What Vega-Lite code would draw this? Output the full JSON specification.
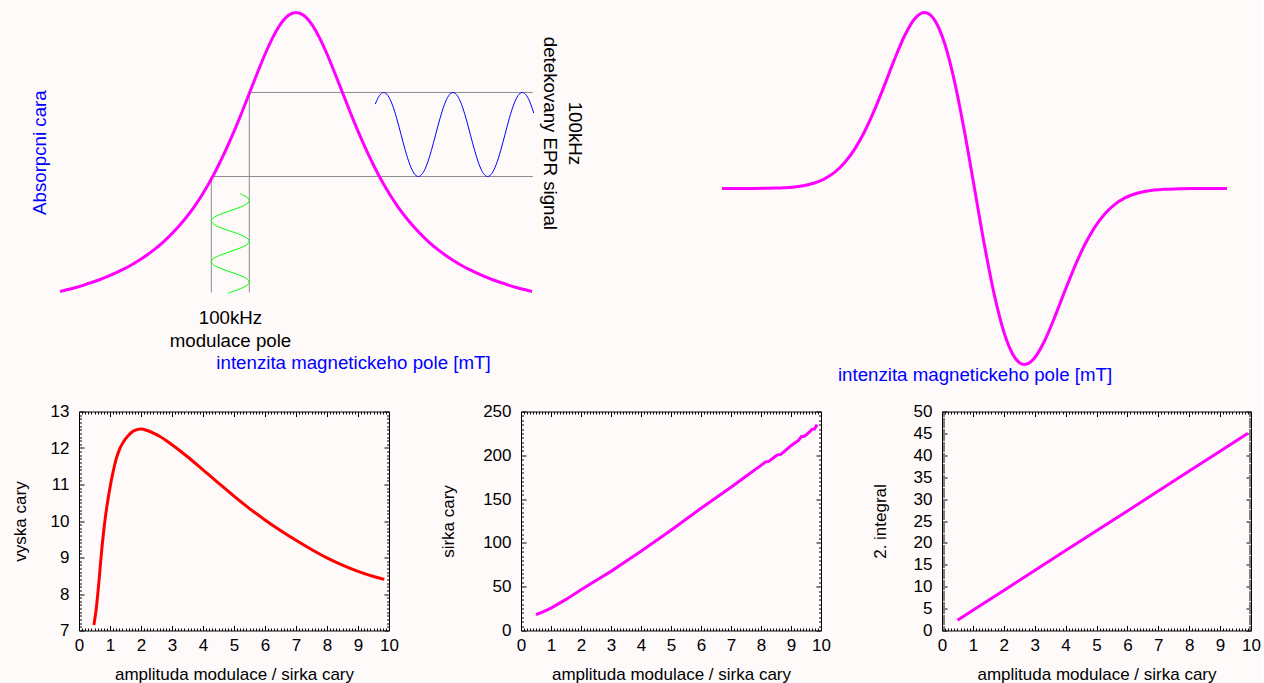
{
  "$schema": "https://vega.github.io/schema/vega-lite/v6.json",
  "background": "#fffafa",
  "padding": {"left": 11, "top": 6.5, "right": 2, "bottom": 2},
  "config": {
    "font": "Liberation Sans",
    "view": {"stroke": null},
    "axis": {
      "grid": false,
      "domainColor": "#000000",
      "domainWidth": 1,
      "tickColor": "#000000",
      "tickWidth": 1,
      "labelColor": "#000000",
      "titleColor": "#000000",
      "labelFontSize": 17,
      "titleFontSize": 17,
      "titleFontWeight": "normal",
      "labelFlush": false,
      "labelOverlap": false
    }
  },
  "bounds": "flush",
  "spacing": 47,
  "vconcat": [
    {
      "width": 1172,
      "height": 352,
      "layer": [
        {
          "layer": [
            {
              "data": {"values": [
                {"x": -1.0778, "x2": 3.01, "y": 0.471, "y2": 0.471},
                {"x": -0.5946, "x2": 3.01, "y": 0.742, "y2": 0.742},
                {"x": -1.0778, "x2": -1.0778, "y": 0.471, "y2": 0.097},
                {"x": -0.5946, "x2": -0.5946, "y": 0.742, "y2": 0.097}
              ]},
              "mark": {"type": "rule", "color": "#8c8c8c", "strokeWidth": 1},
              "encoding": {
                "x": {"field": "x", "type": "quantitative", "scale": {"domain": [-2.76, 12.142], "nice": false, "zero": false}, "axis": null},
                "x2": {"field": "x2"},
                "y": {"field": "y", "type": "quantitative", "scale": {"domain": [-0.1355, 1], "nice": false, "zero": false}, "axis": null},
                "y2": {"field": "y2"}
              }
            },
            {
              "data": {"values": [
                {"i": 0, "x": -0.7125, "y": 0.4151},
                {"i": 1, "x": -0.6654, "y": 0.41},
                {"i": 2, "x": -0.613, "y": 0.4017},
                {"i": 3, "x": -0.5946, "y": 0.3935},
                {"i": 4, "x": -0.613, "y": 0.3853},
                {"i": 5, "x": -0.6654, "y": 0.3771},
                {"i": 6, "x": -0.7437, "y": 0.3688},
                {"i": 7, "x": -0.8362, "y": 0.3606},
                {"i": 8, "x": -0.9287, "y": 0.3524},
                {"i": 9, "x": -1.007, "y": 0.3441},
                {"i": 10, "x": -1.0594, "y": 0.3359},
                {"i": 11, "x": -1.0778, "y": 0.3277},
                {"i": 12, "x": -1.0594, "y": 0.3195},
                {"i": 13, "x": -1.007, "y": 0.3112},
                {"i": 14, "x": -0.9287, "y": 0.303},
                {"i": 15, "x": -0.8362, "y": 0.2948},
                {"i": 16, "x": -0.7437, "y": 0.2866},
                {"i": 17, "x": -0.6654, "y": 0.2783},
                {"i": 18, "x": -0.613, "y": 0.2701},
                {"i": 19, "x": -0.5946, "y": 0.2619},
                {"i": 20, "x": -0.613, "y": 0.2537},
                {"i": 21, "x": -0.6654, "y": 0.2454},
                {"i": 22, "x": -0.7437, "y": 0.2372},
                {"i": 23, "x": -0.8362, "y": 0.229},
                {"i": 24, "x": -0.9287, "y": 0.2208},
                {"i": 25, "x": -1.007, "y": 0.2125},
                {"i": 26, "x": -1.0594, "y": 0.2043},
                {"i": 27, "x": -1.0778, "y": 0.1961},
                {"i": 28, "x": -1.0594, "y": 0.1879},
                {"i": 29, "x": -1.007, "y": 0.1796},
                {"i": 30, "x": -0.9287, "y": 0.1714},
                {"i": 31, "x": -0.8362, "y": 0.1632},
                {"i": 32, "x": -0.7437, "y": 0.155},
                {"i": 33, "x": -0.6654, "y": 0.1467},
                {"i": 34, "x": -0.613, "y": 0.1385},
                {"i": 35, "x": -0.5946, "y": 0.1303},
                {"i": 36, "x": -0.613, "y": 0.122},
                {"i": 37, "x": -0.6654, "y": 0.1138},
                {"i": 38, "x": -0.7437, "y": 0.1056},
                {"i": 39, "x": -0.8362, "y": 0.0974},
                {"i": 40, "x": -0.8693, "y": 0.0945}
              ]},
              "mark": {"type": "line", "color": "#00ff00", "strokeWidth": 1, "interpolate": "catmull-rom"},
              "encoding": {
                "x": {"field": "x", "type": "quantitative", "scale": {"domain": [-2.76, 12.142], "nice": false, "zero": false}, "axis": null},
                "y": {"field": "y", "type": "quantitative", "scale": {"domain": [-0.1355, 1], "nice": false, "zero": false}, "axis": null},
                "order": {"field": "i"}
              }
            },
            {
              "data": {"values": [
                {"x": 1.0075, "y": 0.7046},
                {"x": 1.0592, "y": 0.7317},
                {"x": 1.1143, "y": 0.742},
                {"x": 1.1694, "y": 0.7317},
                {"x": 1.2245, "y": 0.7023},
                {"x": 1.2795, "y": 0.6584},
                {"x": 1.3346, "y": 0.6065},
                {"x": 1.3897, "y": 0.5546},
                {"x": 1.4448, "y": 0.5107},
                {"x": 1.4998, "y": 0.4813},
                {"x": 1.5549, "y": 0.471},
                {"x": 1.61, "y": 0.4813},
                {"x": 1.6651, "y": 0.5107},
                {"x": 1.7201, "y": 0.5546},
                {"x": 1.7752, "y": 0.6065},
                {"x": 1.8303, "y": 0.6584},
                {"x": 1.8854, "y": 0.7023},
                {"x": 1.9405, "y": 0.7317},
                {"x": 1.9955, "y": 0.742},
                {"x": 2.0506, "y": 0.7317},
                {"x": 2.1057, "y": 0.7023},
                {"x": 2.1608, "y": 0.6584},
                {"x": 2.2158, "y": 0.6065},
                {"x": 2.2709, "y": 0.5546},
                {"x": 2.326, "y": 0.5107},
                {"x": 2.3811, "y": 0.4813},
                {"x": 2.4361, "y": 0.471},
                {"x": 2.4912, "y": 0.4813},
                {"x": 2.5463, "y": 0.5107},
                {"x": 2.6014, "y": 0.5546},
                {"x": 2.6565, "y": 0.6065},
                {"x": 2.7115, "y": 0.6584},
                {"x": 2.7666, "y": 0.7023},
                {"x": 2.8217, "y": 0.7317},
                {"x": 2.8768, "y": 0.742},
                {"x": 2.9318, "y": 0.7317},
                {"x": 2.9869, "y": 0.7023},
                {"x": 3.0216, "y": 0.6759}
              ]},
              "mark": {"type": "line", "color": "#0000ff", "strokeWidth": 1, "interpolate": "monotone"},
              "encoding": {
                "x": {"field": "x", "type": "quantitative", "scale": {"domain": [-2.76, 12.142], "nice": false, "zero": false}, "axis": null},
                "y": {"field": "y", "type": "quantitative", "scale": {"domain": [-0.1355, 1], "nice": false, "zero": false}, "axis": null}
              }
            },
            {
              "data": {"values": [
                {"x": -3, "y": 0.1}, {"x": -2.9, "y": 0.1063}, {"x": -2.8, "y": 0.1131}, {"x": -2.7, "y": 0.1206},
                {"x": -2.6, "y": 0.1289}, {"x": -2.5, "y": 0.1379}, {"x": -2.4, "y": 0.1479}, {"x": -2.3, "y": 0.159},
                {"x": -2.2, "y": 0.1712}, {"x": -2.1, "y": 0.1848}, {"x": -2, "y": 0.2}, {"x": -1.9, "y": 0.2169},
                {"x": -1.8, "y": 0.2358}, {"x": -1.7, "y": 0.2571}, {"x": -1.6, "y": 0.2809}, {"x": -1.5, "y": 0.3077},
                {"x": -1.4, "y": 0.3378}, {"x": -1.3, "y": 0.3717}, {"x": -1.2, "y": 0.4098}, {"x": -1.1, "y": 0.4525},
                {"x": -1, "y": 0.5}, {"x": -0.9, "y": 0.5525}, {"x": -0.8, "y": 0.6098}, {"x": -0.7, "y": 0.6711},
                {"x": -0.6, "y": 0.7353}, {"x": -0.5, "y": 0.8}, {"x": -0.4, "y": 0.8621}, {"x": -0.3, "y": 0.9174},
                {"x": -0.2, "y": 0.9615}, {"x": -0.1, "y": 0.9901}, {"x": 0, "y": 1},
                {"x": 0.1, "y": 0.9901}, {"x": 0.2, "y": 0.9615}, {"x": 0.3, "y": 0.9174}, {"x": 0.4, "y": 0.8621},
                {"x": 0.5, "y": 0.8}, {"x": 0.6, "y": 0.7353}, {"x": 0.7, "y": 0.6711}, {"x": 0.8, "y": 0.6098},
                {"x": 0.9, "y": 0.5525}, {"x": 1, "y": 0.5}, {"x": 1.1, "y": 0.4525}, {"x": 1.2, "y": 0.4098},
                {"x": 1.3, "y": 0.3717}, {"x": 1.4, "y": 0.3378}, {"x": 1.5, "y": 0.3077}, {"x": 1.6, "y": 0.2809},
                {"x": 1.7, "y": 0.2571}, {"x": 1.8, "y": 0.2358}, {"x": 1.9, "y": 0.2169}, {"x": 2, "y": 0.2},
                {"x": 2.1, "y": 0.1848}, {"x": 2.2, "y": 0.1712}, {"x": 2.3, "y": 0.159}, {"x": 2.4, "y": 0.1479},
                {"x": 2.5, "y": 0.1379}, {"x": 2.6, "y": 0.1289}, {"x": 2.7, "y": 0.1206}, {"x": 2.8, "y": 0.1131},
                {"x": 2.9, "y": 0.1063}, {"x": 3, "y": 0.1}
              ]},
              "mark": {"type": "line", "color": "#ff00ff", "strokeWidth": 3, "interpolate": "monotone"},
              "encoding": {
                "x": {"field": "x", "type": "quantitative", "scale": {"domain": [-2.76, 12.142], "nice": false, "zero": false}, "axis": null},
                "y": {"field": "y", "type": "quantitative", "scale": {"domain": [-0.1355, 1], "nice": false, "zero": false}, "axis": null}
              }
            },
            {
              "data": {"values": [{"x": -3.256, "y": 0.548, "t": "Absorpcni cara"}]},
              "mark": {"type": "text", "color": "#0000ff", "fontSize": 18.7, "angle": 270, "align": "center", "baseline": "middle"},
              "encoding": {
                "x": {"field": "x", "type": "quantitative", "scale": {"domain": [-2.76, 12.142], "nice": false, "zero": false}, "axis": null},
                "y": {"field": "y", "type": "quantitative", "scale": {"domain": [-0.1355, 1], "nice": false, "zero": false}, "axis": null},
                "text": {"field": "t"}
              }
            },
            {
              "data": {"values": [{"x": 3.547, "y": 0.61, "t": "100kHz\ndetekovany EPR signal"}]},
              "mark": {"type": "text", "color": "#000000", "fontSize": 18.7, "angle": 90, "align": "center", "baseline": "middle", "lineBreak": "\n", "lineHeight": 25},
              "encoding": {
                "x": {"field": "x", "type": "quantitative", "scale": {"domain": [-2.76, 12.142], "nice": false, "zero": false}, "axis": null},
                "y": {"field": "y", "type": "quantitative", "scale": {"domain": [-0.1355, 1], "nice": false, "zero": false}, "axis": null},
                "text": {"field": "t"}
              }
            },
            {
              "data": {"values": [{"x": -0.834, "y": 0.016, "t": "100kHz\nmodulace pole"}]},
              "mark": {"type": "text", "color": "#000000", "fontSize": 18.7, "align": "center", "baseline": "middle", "lineBreak": "\n", "lineHeight": 23},
              "encoding": {
                "x": {"field": "x", "type": "quantitative", "scale": {"domain": [-2.76, 12.142], "nice": false, "zero": false}, "axis": null},
                "y": {"field": "y", "type": "quantitative", "scale": {"domain": [-0.1355, 1], "nice": false, "zero": false}, "axis": null},
                "text": {"field": "t"}
              }
            },
            {
              "data": {"values": [{"x": 0.73, "y": -0.132, "t": "intenzita magnetickeho pole [mT]"}]},
              "mark": {"type": "text", "color": "#0000ff", "fontSize": 18.7, "align": "center", "baseline": "middle"},
              "encoding": {
                "x": {"field": "x", "type": "quantitative", "scale": {"domain": [-2.76, 12.142], "nice": false, "zero": false}, "axis": null},
                "y": {"field": "y", "type": "quantitative", "scale": {"domain": [-0.1355, 1], "nice": false, "zero": false}, "axis": null},
                "text": {"field": "t"}
              }
            }
          ]
        },
        {
          "layer": [
            {
              "data": {"values": [
                {"x": -5.05, "y": 0}, {"x": -4.4, "y": 0.0005}, {"x": -4, "y": 0.0022}, {"x": -3.8, "y": 0.0046},
                {"x": -3.6, "y": 0.0091}, {"x": -3.4, "y": 0.0173}, {"x": -3.2, "y": 0.0315}, {"x": -3, "y": 0.055},
                {"x": -2.8, "y": 0.0916}, {"x": -2.6, "y": 0.146}, {"x": -2.4, "y": 0.2221}, {"x": -2.2, "y": 0.3225},
                {"x": -2, "y": 0.4463}, {"x": -1.8, "y": 0.5873}, {"x": -1.6, "y": 0.7335}, {"x": -1.4, "y": 0.8663},
                {"x": -1.2, "y": 0.963}, {"x": -1.1, "y": 0.9904}, {"x": -1, "y": 1}, {"x": -0.9, "y": 0.9897},
                {"x": -0.8, "y": 0.9578}, {"x": -0.6, "y": 0.8263}, {"x": -0.4, "y": 0.6088}, {"x": -0.2, "y": 0.3232},
                {"x": 0, "y": 0},
                {"x": 0.2, "y": -0.3232}, {"x": 0.4, "y": -0.6088}, {"x": 0.6, "y": -0.8263}, {"x": 0.8, "y": -0.9578},
                {"x": 0.9, "y": -0.9897}, {"x": 1, "y": -1}, {"x": 1.1, "y": -0.9904}, {"x": 1.2, "y": -0.963},
                {"x": 1.4, "y": -0.8663}, {"x": 1.6, "y": -0.7335}, {"x": 1.8, "y": -0.5873}, {"x": 2, "y": -0.4463},
                {"x": 2.2, "y": -0.3225}, {"x": 2.4, "y": -0.2221}, {"x": 2.6, "y": -0.146}, {"x": 2.8, "y": -0.0916},
                {"x": 3, "y": -0.055}, {"x": 3.2, "y": -0.0315}, {"x": 3.4, "y": -0.0173}, {"x": 3.6, "y": -0.0091},
                {"x": 3.8, "y": -0.0046}, {"x": 4, "y": -0.0022}, {"x": 4.4, "y": -0.0005}, {"x": 5.05, "y": 0}
              ]},
              "mark": {"type": "line", "color": "#ff00ff", "strokeWidth": 3, "interpolate": "monotone"},
              "encoding": {
                "x": {"field": "x", "type": "quantitative", "scale": {"domain": [-17.91, 5.53], "nice": false, "zero": false}, "axis": null},
                "y": {"field": "y", "type": "quantitative", "scale": {"domain": [-1, 1], "nice": false, "zero": false}, "axis": null}
              }
            },
            {
              "data": {"values": [{"x": 0.01, "y": -1.057, "t": "intenzita magnetickeho pole [mT]"}]},
              "mark": {"type": "text", "color": "#0000ff", "fontSize": 18.7, "align": "center", "baseline": "middle"},
              "encoding": {
                "x": {"field": "x", "type": "quantitative", "scale": {"domain": [-17.91, 5.53], "nice": false, "zero": false}, "axis": null},
                "y": {"field": "y", "type": "quantitative", "scale": {"domain": [-1, 1], "nice": false, "zero": false}, "axis": null},
                "text": {"field": "t"}
              }
            }
          ]
        }
      ],
      "resolve": {"scale": {"x": "independent", "y": "independent"}}
    },
    {
      "bounds": "flush",
      "spacing": 132,
      "hconcat": [
        {
          "width": 310,
          "height": 219,
          "data": {"values": [
            {"a": 0.48, "v": 7.15}, {"a": 0.55, "v": 7.55}, {"a": 0.6, "v": 7.95}, {"a": 0.65, "v": 8.4},
            {"a": 0.7, "v": 8.9}, {"a": 0.75, "v": 9.35}, {"a": 0.8, "v": 9.75}, {"a": 0.85, "v": 10.1},
            {"a": 0.9, "v": 10.4}, {"a": 1, "v": 10.92}, {"a": 1.1, "v": 11.35}, {"a": 1.2, "v": 11.7},
            {"a": 1.3, "v": 11.95}, {"a": 1.4, "v": 12.12}, {"a": 1.5, "v": 12.25}, {"a": 1.6, "v": 12.35},
            {"a": 1.7, "v": 12.43}, {"a": 1.8, "v": 12.48}, {"a": 1.9, "v": 12.51}, {"a": 2, "v": 12.52},
            {"a": 2.2, "v": 12.48}, {"a": 2.4, "v": 12.41}, {"a": 2.6, "v": 12.32}, {"a": 2.8, "v": 12.21},
            {"a": 3, "v": 12.09}, {"a": 3.5, "v": 11.76}, {"a": 4, "v": 11.4}, {"a": 4.5, "v": 11.04},
            {"a": 5, "v": 10.68}, {"a": 5.5, "v": 10.34}, {"a": 6, "v": 10.03}, {"a": 6.5, "v": 9.74},
            {"a": 7, "v": 9.47}, {"a": 7.5, "v": 9.22}, {"a": 8, "v": 8.99}, {"a": 8.5, "v": 8.79},
            {"a": 9, "v": 8.62}, {"a": 9.5, "v": 8.48}, {"a": 9.85, "v": 8.4}
          ]},
          "layer": [
            {
              "mark": {"type": "line", "color": "#ff0000", "strokeWidth": 3, "interpolate": "monotone"},
              "encoding": {
                "x": {"field": "a", "type": "quantitative", "scale": {"domain": [0, 10], "nice": false, "zero": false},
                  "axis": {"orient": "bottom", "title": "amplituda modulace / sirka cary", "titlePadding": 13, "labelPadding": 12, "tickSize": -5,
                    "values": [0,1,2,3,4,5,6,7,8,9,10]}},
                "y": {"field": "v", "type": "quantitative", "scale": {"domain": [7, 13], "nice": false, "zero": false},
                  "axis": {"orient": "left", "title": "vyska cary", "titlePadding": 21, "labelPadding": 15, "tickSize": -5,
                    "values": [7,8,9,10,11,12,13]}}
              }
            },
            {
              "mark": {"type": "point", "opacity": 0},
              "encoding": {
                "x": {"field": "a", "type": "quantitative", "scale": {"domain": [0, 10], "nice": false, "zero": false},
                  "axis": {"orient": "top", "title": null, "labels": false, "tickSize": -5, "values": [0,1,2,3,4,5,6,7,8,9,10]}},
                "y": {"field": "v", "type": "quantitative", "scale": {"domain": [7, 13], "nice": false, "zero": false},
                  "axis": {"orient": "right", "title": null, "labels": false, "tickSize": -5, "values": [7,8,9,10,11,12,13]}}
              }
            },
            {
              "mark": {"type": "point", "opacity": 0},
              "encoding": {
                "x": {"field": "a", "type": "quantitative", "scale": {"domain": [0, 10], "nice": false, "zero": false},
                  "axis": {"orient": "bottom", "title": null, "labels": false, "domain": false, "tickSize": -2.5,
                    "values": [0.1,0.2,0.3,0.4,0.5,0.6,0.7,0.8,0.9,1.1,1.2,1.3,1.4,1.5,1.6,1.7,1.8,1.9,2.1,2.2,2.3,2.4,2.5,2.6,2.7,2.8,2.9,3.1,3.2,3.3,3.4,3.5,3.6,3.7,3.8,3.9,4.1,4.2,4.3,4.4,4.5,4.6,4.7,4.8,4.9,5.1,5.2,5.3,5.4,5.5,5.6,5.7,5.8,5.9,6.1,6.2,6.3,6.4,6.5,6.6,6.7,6.8,6.9,7.1,7.2,7.3,7.4,7.5,7.6,7.7,7.8,7.9,8.1,8.2,8.3,8.4,8.5,8.6,8.7,8.8,8.9,9.1,9.2,9.3,9.4,9.5,9.6,9.7,9.8,9.9]}},
                "y": {"field": "v", "type": "quantitative", "scale": {"domain": [7, 13], "nice": false, "zero": false},
                  "axis": {"orient": "left", "title": null, "labels": false, "domain": false, "tickSize": -2.5,
                    "values": [7.1,7.2,7.3,7.4,7.5,7.6,7.7,7.8,7.9,8.1,8.2,8.3,8.4,8.5,8.6,8.7,8.8,8.9,9.1,9.2,9.3,9.4,9.5,9.6,9.7,9.8,9.9,10.1,10.2,10.3,10.4,10.5,10.6,10.7,10.8,10.9,11.1,11.2,11.3,11.4,11.5,11.6,11.7,11.8,11.9,12.1,12.2,12.3,12.4,12.5,12.6,12.7,12.8,12.9]}}
              }
            },
            {
              "mark": {"type": "point", "opacity": 0},
              "encoding": {
                "x": {"field": "a", "type": "quantitative", "scale": {"domain": [0, 10], "nice": false, "zero": false},
                  "axis": {"orient": "top", "title": null, "labels": false, "domain": false, "tickSize": -2.5,
                    "values": [0.1,0.2,0.3,0.4,0.5,0.6,0.7,0.8,0.9,1.1,1.2,1.3,1.4,1.5,1.6,1.7,1.8,1.9,2.1,2.2,2.3,2.4,2.5,2.6,2.7,2.8,2.9,3.1,3.2,3.3,3.4,3.5,3.6,3.7,3.8,3.9,4.1,4.2,4.3,4.4,4.5,4.6,4.7,4.8,4.9,5.1,5.2,5.3,5.4,5.5,5.6,5.7,5.8,5.9,6.1,6.2,6.3,6.4,6.5,6.6,6.7,6.8,6.9,7.1,7.2,7.3,7.4,7.5,7.6,7.7,7.8,7.9,8.1,8.2,8.3,8.4,8.5,8.6,8.7,8.8,8.9,9.1,9.2,9.3,9.4,9.5,9.6,9.7,9.8,9.9]}},
                "y": {"field": "v", "type": "quantitative", "scale": {"domain": [7, 13], "nice": false, "zero": false},
                  "axis": {"orient": "right", "title": null, "labels": false, "domain": false, "tickSize": -2.5,
                    "values": [7.1,7.2,7.3,7.4,7.5,7.6,7.7,7.8,7.9,8.1,8.2,8.3,8.4,8.5,8.6,8.7,8.8,8.9,9.1,9.2,9.3,9.4,9.5,9.6,9.7,9.8,9.9,10.1,10.2,10.3,10.4,10.5,10.6,10.7,10.8,10.9,11.1,11.2,11.3,11.4,11.5,11.6,11.7,11.8,11.9,12.1,12.2,12.3,12.4,12.5,12.6,12.7,12.8,12.9]}}
              }
            }
          ],
          "resolve": {"axis": {"x": "independent", "y": "independent"}}
        },
        {
          "bounds": "flush",
          "spacing": 121,
          "hconcat": [
            {
              "width": 300,
              "height": 219,
              "data": {"values": [
                {"a": 0.5, "v": 18}, {"a": 0.75, "v": 21.5}, {"a": 1, "v": 25.5}, {"a": 1.5, "v": 35.5},
                {"a": 2, "v": 46.5}, {"a": 2.5, "v": 57}, {"a": 3, "v": 67.5}, {"a": 3.5, "v": 79},
                {"a": 4, "v": 90.5}, {"a": 4.5, "v": 102.5}, {"a": 5, "v": 114.5}, {"a": 5.5, "v": 127},
                {"a": 6, "v": 139.5}, {"a": 6.5, "v": 151.5}, {"a": 7, "v": 163.5}, {"a": 7.5, "v": 176},
                {"a": 8, "v": 188.5}, {"a": 8.15, "v": 192.5}, {"a": 8.25, "v": 192.8}, {"a": 8.45, "v": 198},
                {"a": 8.55, "v": 200.5}, {"a": 8.65, "v": 200.8}, {"a": 8.8, "v": 205}, {"a": 9, "v": 211},
                {"a": 9.1, "v": 213.5}, {"a": 9.25, "v": 217}, {"a": 9.35, "v": 221.5}, {"a": 9.45, "v": 221.8},
                {"a": 9.6, "v": 226}, {"a": 9.7, "v": 229.8}, {"a": 9.78, "v": 230}, {"a": 9.87, "v": 235}
              ]},
              "layer": [
                {
                  "mark": {"type": "line", "color": "#ff00ff", "strokeWidth": 3},
                  "encoding": {
                    "x": {"field": "a", "type": "quantitative", "scale": {"domain": [0, 10], "nice": false, "zero": false},
                      "axis": {"orient": "bottom", "title": "amplituda modulace / sirka cary", "titlePadding": 13, "labelPadding": 12, "tickSize": -5,
                        "values": [0,1,2,3,4,5,6,7,8,9,10]}},
                    "y": {"field": "v", "type": "quantitative", "scale": {"domain": [0, 250], "nice": false, "zero": false},
                      "axis": {"orient": "left", "title": "sirka cary", "titlePadding": 25, "labelPadding": 15, "tickSize": -5,
                        "values": [0,50,100,150,200,250]}}
                  }
                },
                {
                  "mark": {"type": "point", "opacity": 0},
                  "encoding": {
                    "x": {"field": "a", "type": "quantitative", "scale": {"domain": [0, 10], "nice": false, "zero": false},
                      "axis": {"orient": "top", "title": null, "labels": false, "tickSize": -5, "values": [0,1,2,3,4,5,6,7,8,9,10]}},
                    "y": {"field": "v", "type": "quantitative", "scale": {"domain": [0, 250], "nice": false, "zero": false},
                      "axis": {"orient": "right", "title": null, "labels": false, "tickSize": -5, "values": [0,50,100,150,200,250]}}
                  }
                },
                {
                  "mark": {"type": "point", "opacity": 0},
                  "encoding": {
                    "x": {"field": "a", "type": "quantitative", "scale": {"domain": [0, 10], "nice": false, "zero": false},
                      "axis": {"orient": "bottom", "title": null, "labels": false, "domain": false, "tickSize": -2.5,
                        "values": [0.1,0.2,0.3,0.4,0.5,0.6,0.7,0.8,0.9,1.1,1.2,1.3,1.4,1.5,1.6,1.7,1.8,1.9,2.1,2.2,2.3,2.4,2.5,2.6,2.7,2.8,2.9,3.1,3.2,3.3,3.4,3.5,3.6,3.7,3.8,3.9,4.1,4.2,4.3,4.4,4.5,4.6,4.7,4.8,4.9,5.1,5.2,5.3,5.4,5.5,5.6,5.7,5.8,5.9,6.1,6.2,6.3,6.4,6.5,6.6,6.7,6.8,6.9,7.1,7.2,7.3,7.4,7.5,7.6,7.7,7.8,7.9,8.1,8.2,8.3,8.4,8.5,8.6,8.7,8.8,8.9,9.1,9.2,9.3,9.4,9.5,9.6,9.7,9.8,9.9]}},
                    "y": {"field": "v", "type": "quantitative", "scale": {"domain": [0, 250], "nice": false, "zero": false},
                      "axis": {"orient": "left", "title": null, "labels": false, "domain": false, "tickSize": -2.5,
                        "values": [5,10,15,20,25,30,35,40,45,55,60,65,70,75,80,85,90,95,105,110,115,120,125,130,135,140,145,155,160,165,170,175,180,185,190,195,205,210,215,220,225,230,235,240,245]}}
                  }
                },
                {
                  "mark": {"type": "point", "opacity": 0},
                  "encoding": {
                    "x": {"field": "a", "type": "quantitative", "scale": {"domain": [0, 10], "nice": false, "zero": false},
                      "axis": {"orient": "top", "title": null, "labels": false, "domain": false, "tickSize": -2.5,
                        "values": [0.1,0.2,0.3,0.4,0.5,0.6,0.7,0.8,0.9,1.1,1.2,1.3,1.4,1.5,1.6,1.7,1.8,1.9,2.1,2.2,2.3,2.4,2.5,2.6,2.7,2.8,2.9,3.1,3.2,3.3,3.4,3.5,3.6,3.7,3.8,3.9,4.1,4.2,4.3,4.4,4.5,4.6,4.7,4.8,4.9,5.1,5.2,5.3,5.4,5.5,5.6,5.7,5.8,5.9,6.1,6.2,6.3,6.4,6.5,6.6,6.7,6.8,6.9,7.1,7.2,7.3,7.4,7.5,7.6,7.7,7.8,7.9,8.1,8.2,8.3,8.4,8.5,8.6,8.7,8.8,8.9,9.1,9.2,9.3,9.4,9.5,9.6,9.7,9.8,9.9]}},
                    "y": {"field": "v", "type": "quantitative", "scale": {"domain": [0, 250], "nice": false, "zero": false},
                      "axis": {"orient": "right", "title": null, "labels": false, "domain": false, "tickSize": -2.5,
                        "values": [5,10,15,20,25,30,35,40,45,55,60,65,70,75,80,85,90,95,105,110,115,120,125,130,135,140,145,155,160,165,170,175,180,185,190,195,205,210,215,220,225,230,235,240,245]}}
                  }
                }
              ],
              "resolve": {"axis": {"x": "independent", "y": "independent"}}
            },
            {
              "width": 309,
              "height": 219,
              "data": {"values": [
                {"a": 0.5, "v": 2.35}, {"a": 1, "v": 4.6}, {"a": 2, "v": 9.15}, {"a": 3, "v": 13.7},
                {"a": 4, "v": 18.25}, {"a": 5, "v": 22.8}, {"a": 6, "v": 27.3}, {"a": 7, "v": 31.85},
                {"a": 8, "v": 36.4}, {"a": 9, "v": 40.95}, {"a": 9.9, "v": 45.05}
              ]},
              "layer": [
                {
                  "mark": {"type": "line", "color": "#ff00ff", "strokeWidth": 3},
                  "encoding": {
                    "x": {"field": "a", "type": "quantitative", "scale": {"domain": [0, 10], "nice": false, "zero": false},
                      "axis": {"orient": "bottom", "title": "amplituda modulace / sirka cary", "titlePadding": 13, "labelPadding": 12, "tickSize": -5,
                        "values": [0,1,2,3,4,5,6,7,8,9,10]}},
                    "y": {"field": "v", "type": "quantitative", "scale": {"domain": [0, 50], "nice": false, "zero": false},
                      "axis": {"orient": "left", "title": "2. integral", "titlePadding": 24, "labelPadding": 15, "tickSize": -5,
                        "values": [0,5,10,15,20,25,30,35,40,45,50]}}
                  }
                },
                {
                  "mark": {"type": "point", "opacity": 0},
                  "encoding": {
                    "x": {"field": "a", "type": "quantitative", "scale": {"domain": [0, 10], "nice": false, "zero": false},
                      "axis": {"orient": "top", "title": null, "labels": false, "tickSize": -5, "values": [0,1,2,3,4,5,6,7,8,9,10]}},
                    "y": {"field": "v", "type": "quantitative", "scale": {"domain": [0, 50], "nice": false, "zero": false},
                      "axis": {"orient": "right", "title": null, "labels": false, "tickSize": -5, "values": [0,5,10,15,20,25,30,35,40,45,50]}}
                  }
                },
                {
                  "mark": {"type": "point", "opacity": 0},
                  "encoding": {
                    "x": {"field": "a", "type": "quantitative", "scale": {"domain": [0, 10], "nice": false, "zero": false},
                      "axis": {"orient": "bottom", "title": null, "labels": false, "domain": false, "tickSize": -2.5,
                        "values": [0.1,0.2,0.3,0.4,0.5,0.6,0.7,0.8,0.9,1.1,1.2,1.3,1.4,1.5,1.6,1.7,1.8,1.9,2.1,2.2,2.3,2.4,2.5,2.6,2.7,2.8,2.9,3.1,3.2,3.3,3.4,3.5,3.6,3.7,3.8,3.9,4.1,4.2,4.3,4.4,4.5,4.6,4.7,4.8,4.9,5.1,5.2,5.3,5.4,5.5,5.6,5.7,5.8,5.9,6.1,6.2,6.3,6.4,6.5,6.6,6.7,6.8,6.9,7.1,7.2,7.3,7.4,7.5,7.6,7.7,7.8,7.9,8.1,8.2,8.3,8.4,8.5,8.6,8.7,8.8,8.9,9.1,9.2,9.3,9.4,9.5,9.6,9.7,9.8,9.9]}},
                    "y": {"field": "v", "type": "quantitative", "scale": {"domain": [0, 50], "nice": false, "zero": false},
                      "axis": {"orient": "left", "title": null, "labels": false, "domain": false, "tickSize": -2.5,
                        "values": [0.5,1,1.5,2,2.5,3,3.5,4,4.5,5.5,6,6.5,7,7.5,8,8.5,9,9.5,10.5,11,11.5,12,12.5,13,13.5,14,14.5,15.5,16,16.5,17,17.5,18,18.5,19,19.5,20.5,21,21.5,22,22.5,23,23.5,24,24.5,25.5,26,26.5,27,27.5,28,28.5,29,29.5,30.5,31,31.5,32,32.5,33,33.5,34,34.5,35.5,36,36.5,37,37.5,38,38.5,39,39.5,40.5,41,41.5,42,42.5,43,43.5,44,44.5,45.5,46,46.5,47,47.5,48,48.5,49,49.5]}}
                  }
                },
                {
                  "mark": {"type": "point", "opacity": 0},
                  "encoding": {
                    "x": {"field": "a", "type": "quantitative", "scale": {"domain": [0, 10], "nice": false, "zero": false},
                      "axis": {"orient": "top", "title": null, "labels": false, "domain": false, "tickSize": -2.5,
                        "values": [0.1,0.2,0.3,0.4,0.5,0.6,0.7,0.8,0.9,1.1,1.2,1.3,1.4,1.5,1.6,1.7,1.8,1.9,2.1,2.2,2.3,2.4,2.5,2.6,2.7,2.8,2.9,3.1,3.2,3.3,3.4,3.5,3.6,3.7,3.8,3.9,4.1,4.2,4.3,4.4,4.5,4.6,4.7,4.8,4.9,5.1,5.2,5.3,5.4,5.5,5.6,5.7,5.8,5.9,6.1,6.2,6.3,6.4,6.5,6.6,6.7,6.8,6.9,7.1,7.2,7.3,7.4,7.5,7.6,7.7,7.8,7.9,8.1,8.2,8.3,8.4,8.5,8.6,8.7,8.8,8.9,9.1,9.2,9.3,9.4,9.5,9.6,9.7,9.8,9.9]}},
                    "y": {"field": "v", "type": "quantitative", "scale": {"domain": [0, 50], "nice": false, "zero": false},
                      "axis": {"orient": "right", "title": null, "labels": false, "domain": false, "tickSize": -2.5,
                        "values": [0.5,1,1.5,2,2.5,3,3.5,4,4.5,5.5,6,6.5,7,7.5,8,8.5,9,9.5,10.5,11,11.5,12,12.5,13,13.5,14,14.5,15.5,16,16.5,17,17.5,18,18.5,19,19.5,20.5,21,21.5,22,22.5,23,23.5,24,24.5,25.5,26,26.5,27,27.5,28,28.5,29,29.5,30.5,31,31.5,32,32.5,33,33.5,34,34.5,35.5,36,36.5,37,37.5,38,38.5,39,39.5,40.5,41,41.5,42,42.5,43,43.5,44,44.5,45.5,46,46.5,47,47.5,48,48.5,49,49.5]}}
                  }
                }
              ],
              "resolve": {"axis": {"x": "independent", "y": "independent"}}
            }
          ]
        }
      ]
    }
  ]
}
